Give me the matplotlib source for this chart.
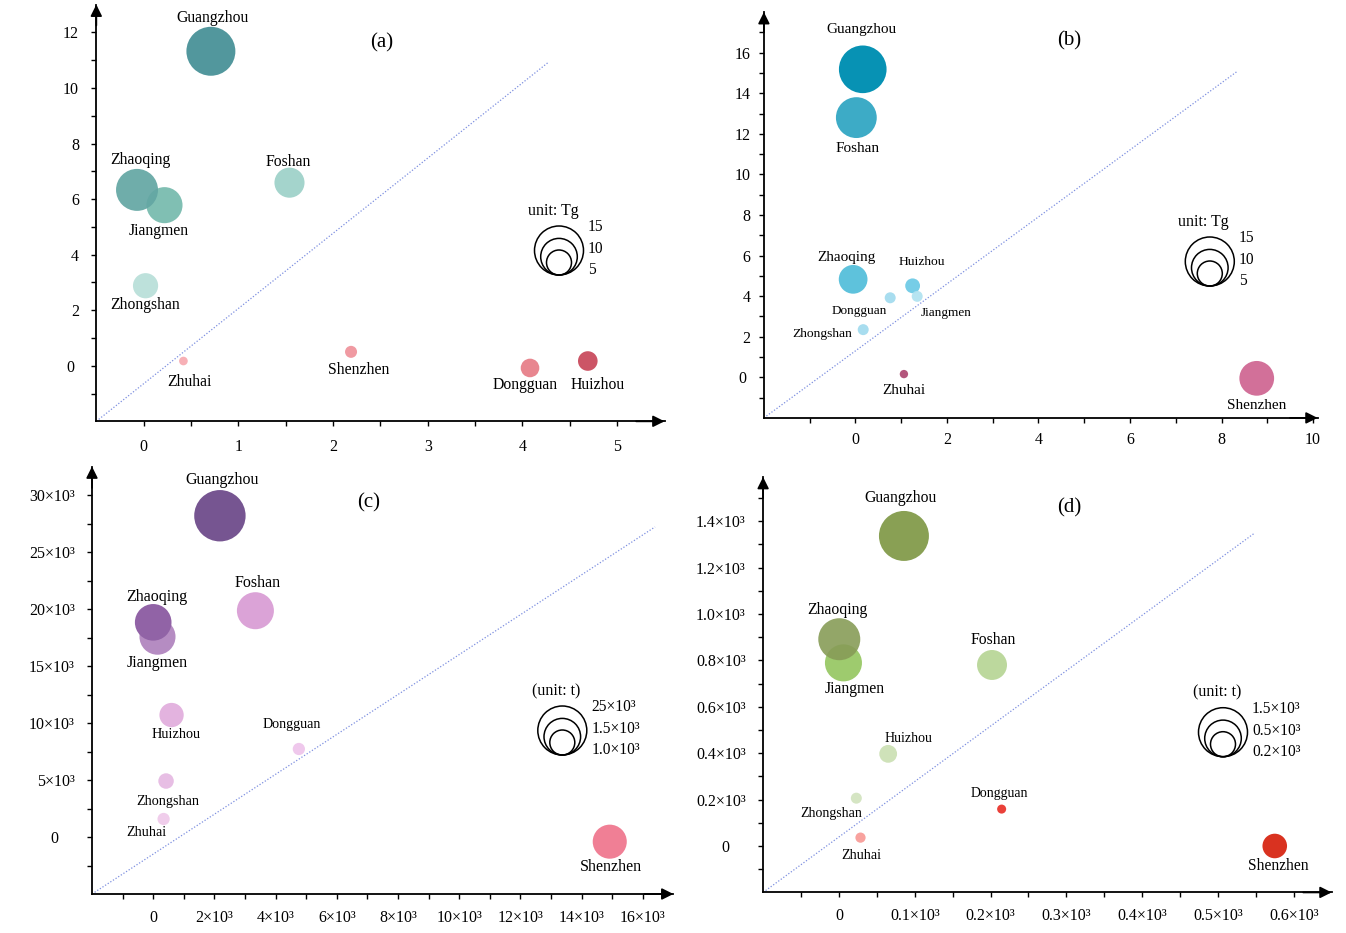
import numpy as np
import matplotlib
matplotlib.use("Agg")
import matplotlib.pyplot as plt
from matplotlib.ticker import FixedLocator, FuncFormatter
from matplotlib.patches import Circle

plt.rcParams['font.family'] = ['Liberation Serif', 'DejaVu Serif']

W, H, DPI = 1346, 933, 100

# ------------------------------------------------------------------ data
# (a)  unit: Tg
cities_a = ["Jiangmen", "Zhaoqing", "Guangzhou", "Foshan", "Zhongshan",
            "Zhuhai", "Shenzhen", "Dongguan", "Huizhou"]
x_a = [0.22, -0.07, 0.71, 1.54, 0.02, 0.42, 2.19, 4.08, 4.69]
y_a = [5.78, 6.33, 11.32, 6.59, 2.88, 0.17, 0.50, -0.08, 0.17]
v_a = [8.2, 11.1, 15.1, 5.7, 4.0, 0.47, 0.91, 2.18, 2.42]
diag_a = ([-0.5, 4.28], [-2.0, 10.94])
xticks_a = [0, 1, 2, 3, 4, 5]
yticks_a = [0, 2, 4, 6, 8, 10, 12]
legend_a = ["15", "10", "5"]

# (b)  unit: Tg
cities_b = ["Guangzhou", "Foshan", "Zhaoqing", "Huizhou", "Jiangmen",
            "Dongguan", "Zhongshan", "Zhuhai", "Shenzhen"]
x_b = [0.16, 0.02, -0.05, 1.25, 1.35, 0.76, 0.17, 1.06, 8.77]
y_b = [15.18, 12.8, 4.83, 4.51, 3.99, 3.92, 2.35, 0.16, -0.05]
v_b = [14.3, 10.5, 5.2, 1.38, 0.76, 0.76, 0.76, 0.44, 7.6]
diag_b = ([-2.0, 8.35], [-2.0, 15.09])
xticks_b = [0, 2, 4, 6, 8, 10]
yticks_b = [0, 2, 4, 6, 8, 10, 12, 14, 16]
legend_b = ["15", "10", "5"]

# (c)  unit: t (x10^3)
cities_c = ["Guangzhou", "Jiangmen", "Zhaoqing", "Foshan", "Huizhou",
            "Zhongshan", "Zhuhai", "Dongguan", "Shenzhen"]
x_c = [2.18, 0.14, 0.0, 3.34, 0.60, 0.42, 0.34, 4.76, 14.92]
y_c = [28.18, 17.57, 18.83, 19.85, 10.70, 4.91, 1.58, 7.72, -0.41]
v_c = [26.4, 13.0, 13.4, 13.7, 5.9, 2.4, 1.5, 1.5, 11.6]
diag_c = ([-2.0, 16.4], [-5.0, 27.2])
xticks_c = [0, 2, 4, 6, 8, 10, 12, 14, 16]
yticks_c = [0, 5, 10, 15, 20, 25, 30]
legend_c = ["25×10³", "1.5×10³", "1.0×10³"]

# (d)  unit: t (x10^3)
cities_d = ["Guangzhou", "Jiangmen", "Zhaoqing", "Foshan", "Huizhou",
            "Zhongshan", "Zhuhai", "Dongguan", "Shenzhen"]
x_d = [0.0858, 0.006, 0.0005, 0.202, 0.065, 0.023, 0.0285, 0.2147, 0.575]
y_d = [1.336, 0.789, 0.891, 0.780, 0.397, 0.206, 0.036, 0.159, 0.0]
v_d = [1.53, 0.84, 1.08, 0.55, 0.194, 0.074, 0.064, 0.05, 0.37]
diag_d = ([-0.1, 0.547], [-0.2, 1.345])
xticks_d = [0, 0.1, 0.2, 0.3, 0.4, 0.5, 0.6]
yticks_d = [0, 0.2, 0.4, 0.6, 0.8, 1.0, 1.2, 1.4]
legend_d = ["1.5×10³", "0.5×10³", "0.2×10³"]

# ------------------------------------------------------------------ styles
colors_a = {"Guangzhou": "#52979d", "Zhaoqing": (0.39, 0.65, 0.64, 0.92),
            "Jiangmen": "#80bfb3",
            "Foshan": "#a4d4cc", "Zhongshan": "#bde1db", "Zhuhai": "#f7b0b6",
            "Shenzhen": "#f09aa2", "Dongguan": "#e8868f", "Huizhou": "#cc5566"}
colors_b = {"Guangzhou": "#0792b4", "Foshan": "#3dabc6", "Zhaoqing": "#5ec2dc",
            "Huizhou": "#76cde7", "Jiangmen": (0.69, 0.886, 0.94, 0.92),
            "Dongguan": "#a8ddef",
            "Zhongshan": "#a8ddef", "Zhuhai": "#b3567c", "Shenzhen": "#d27099"}
colors_c = {"Guangzhou": "#765591", "Zhaoqing": "#9163a6", "Jiangmen": "#b58cc2",
            "Foshan": "#dba3d7", "Huizhou": "#e3b3df", "Zhongshan": "#e7bee4",
            "Zhuhai": "#f0cdeb", "Dongguan": "#efc8ec", "Shenzhen": "#f07f95"}
colors_d = {"Guangzhou": "#89a054", "Zhaoqing": (0.53, 0.61, 0.34, 0.9),
            "Jiangmen": "#9ecb6e", "Foshan": "#bcd89d", "Huizhou": "#cfe2b9",
            "Zhongshan": "#d5e5c3", "Zhuhai": "#f8a29e", "Dongguan": "#ea4039",
            "Shenzhen": "#d93220"}

# label offsets in pixels (dx right, dy down) and font sizes
lab_a = {"Guangzhou": (2, -33, 11.3), "Zhaoqing": (3, -30, 11.3), "Jiangmen": (-6, 26, 11.3),
         "Foshan": (-1, -21, 11.3), "Zhongshan": (0, 19, 11.3), "Zhuhai": (6, 21, 11.3),
         "Shenzhen": (8, 18, 11.3), "Dongguan": (-5, 17, 11.3), "Huizhou": (10, 24, 11.3)}
lab_b = {"Guangzhou": (-1, -40, 11), "Foshan": (1, 31, 11), "Zhaoqing": (-7, -22, 11),
         "Huizhou": (9, -24, 9.7), "Dongguan": (-31, 13, 9.5), "Jiangmen": (29, 17, 9.5),
         "Zhongshan": (-41, 4, 9.7), "Zhuhai": (0, 16, 11), "Shenzhen": (0, 27, 11)}
lab_c = {"Guangzhou": (2, -36, 11.5), "Foshan": (2, -28, 11.5), "Zhaoqing": (4, -25, 11.5),
         "Jiangmen": (0, 26, 11.5), "Huizhou": (5, 19, 10.3), "Dongguan": (-7, -24, 10.1),
         "Zhongshan": (2, 20, 10.2), "Zhuhai": (-17, 14, 10.2), "Shenzhen": (1, 25, 11.5)}
lab_d = {"Guangzhou": (-3, -38, 11.3), "Zhaoqing": (-2, -29, 11.3), "Jiangmen": (11, 26, 11.3),
         "Foshan": (1, -25, 11.3), "Huizhou": (20, -15, 10), "Dongguan": (-2, -16, 9.9),
         "Zhongshan": (-25, 15, 10), "Zhuhai": (1, 18, 10.1), "Shenzhen": (4, 20, 11.2)}

LEG_R = (24.5, 18.3, 12.5)          # legend key circle radii (px)
PX2PT = 72.0 / DPI

fig = plt.figure(figsize=(W / DPI, H / DPI), dpi=DPI)
fig.patch.set_facecolor("white")


def fmt_k(dec, zero_label="0"):
    def f(v, pos):
        if abs(v) < 1e-9:
            return zero_label
        return (f"{v:.{dec}f}" if dec else f"{v:g}") + "×10³"
    return FuncFormatter(f)


def fmt_plain(zero_label="0"):
    def f(v, pos):
        if abs(v) < 1e-9:
            return zero_label
        return f"{v:g}"
    return FuncFormatter(f)


def panel(box, xlim, ylim, cities, xs, ys, vs, k, colors, labs, diag,
          xt, xminor, yt, yminor, xfmt=None, yfmt=None, ypad=9, xpad=8,
          tag="", tag_xy=(0, 0), leg_anchor=(0, 0), leg_title="", leg_labels=()):
    l, r, t, b = box
    ax = fig.add_axes([l / W, 1 - b / H, (r - l) / W, (b - t) / H])
    ax.set_xlim(*xlim)
    ax.set_ylim(*ylim)
    ax.set_facecolor("none")
    for s in ("top", "right"):
        ax.spines[s].set_visible(False)
    for s in ("left", "bottom"):
        ax.spines[s].set_linewidth(1.3)
    ax.xaxis.set_major_locator(FixedLocator(xt))
    ax.xaxis.set_minor_locator(FixedLocator(xminor))
    ax.yaxis.set_major_locator(FixedLocator(yt))
    ax.yaxis.set_minor_locator(FixedLocator(yminor))
    if xfmt is not None:
        ax.xaxis.set_major_formatter(xfmt)
    if yfmt is not None:
        ax.yaxis.set_major_formatter(yfmt)
    ax.tick_params(which="both", direction="out", length=3.5, width=1.0)
    ax.tick_params(axis="x", which="major", labelsize=11.5, pad=xpad)
    ax.tick_params(axis="y", which="major", labelsize=11.5, pad=ypad)
    # arrows at axis ends
    ax.annotate("", xy=(1, 0), xytext=(0.95, 0), xycoords="axes fraction",
                arrowprops=dict(arrowstyle="-|>", color="k", lw=1.3,
                                mutation_scale=17, shrinkA=0, shrinkB=0))
    ax.annotate("", xy=(0, 1), xytext=(0, 0.95), xycoords="axes fraction",
                arrowprops=dict(arrowstyle="-|>", color="k", lw=1.3,
                                mutation_scale=17, shrinkA=0, shrinkB=0))
    # diagonal reference line
    ax.plot(diag[0], diag[1], ls=(0, (1, 1.5)), color="#7d8fe0", lw=0.9, zorder=1)
    # bubbles: radius (px) = k * sqrt(value)
    sizes = (2 * k * PX2PT) ** 2 * np.asarray(vs)
    cols = [colors[c] for c in cities]
    ax.scatter(xs, ys, s=sizes, c=cols, edgecolors="none", zorder=3, clip_on=False)
    for c, x, y in zip(cities, xs, ys):
        dx, dy, fs = labs[c]
        ax.annotate(c, (x, y), xytext=(dx * PX2PT, -dy * PX2PT),
                    textcoords="offset points", ha="center", va="center",
                    fontsize=fs, zorder=4)
    # panel tag
    fig.text(tag_xy[0] / W, 1 - tag_xy[1] / H, tag, fontsize=15,
             ha="center", va="center")
    # legend key
    cx, cb = leg_anchor
    for rr in LEG_R:
        fig.add_artist(Circle((cx / DPI, (H - cb + rr) / DPI), rr / DPI,
                              transform=fig.dpi_scale_trans, fill=False,
                              ec="k", lw=1.1))
    fig.text((cx - 6) / W, 1 - (cb - 64) / H, leg_title, fontsize=11.5,
             ha="center", va="center")
    for lab, dy in zip(leg_labels, (-48, -26, -5)):
        fig.text((cx + 29) / W, 1 - (cb + dy) / H, lab, fontsize=11.2,
                 ha="left", va="center")
    return ax


panel((96.3, 664.5, 4.6, 421.3), (-0.5, 5.5), (-2, 13),
      cities_a, x_a, y_a, v_a, 6.3, colors_a, lab_a, diag_a,
      xticks_a, [0.5, 1.5, 2.5, 3.5, 4.5], yticks_a, [-1, 1, 3, 5, 7, 9, 11],
      yfmt=fmt_plain("0 "), ypad=9, xpad=9, tag="(a)", tag_xy=(381.6, 43.3),
      leg_anchor=(559, 275), leg_title="unit: Tg", leg_labels=legend_a)

panel((763.9, 1317.6, 12.1, 417.9), (-2, 10.1), (-2, 18),
      cities_b, x_b, y_b, v_b, 6.3, colors_b, lab_b, diag_b,
      xticks_b, [-1, 1, 3, 5, 7, 9], yticks_b, [-1, 1, 3, 5, 7, 9, 11, 13, 15, 17],
      yfmt=fmt_plain("0 "), ypad=6, xpad=7, tag="(b)", tag_xy=(1068.7, 40.7),
      leg_anchor=(1209.8, 286), leg_title="unit: Tg", leg_labels=legend_b)

panel((92.0, 673.4, 466.5, 894.0), (-2, 17), (-5, 32.5),
      cities_c, x_c, y_c, v_c, 5.0, colors_c, lab_c, diag_c,
      xticks_c, [-1, 1, 3, 5, 7, 9, 11, 13, 15],
      yticks_c, [-2.5, 2.5, 7.5, 12.5, 17.5, 22.5, 27.5],
      xfmt=fmt_k(0), yfmt=fmt_k(0, "0    "), ypad=9, xpad=8, tag="(c)",
      tag_xy=(368.8, 503.3),
      leg_anchor=(562.3, 755), leg_title="(unit: t)", leg_labels=legend_c)

panel((763.1, 1331.6, 477.0, 892.4), (-0.1, 0.65), (-0.2, 1.59),
      cities_d, x_d, y_d, v_d, 20.2, colors_d, lab_d, diag_d,
      xticks_d, [-0.05, 0.05, 0.15, 0.25, 0.35, 0.45, 0.55],
      yticks_d, [-0.1, 0.1, 0.3, 0.5, 0.7, 0.9, 1.1, 1.3, 1.5],
      xfmt=fmt_k(1), yfmt=fmt_k(1, "0    "), ypad=9, xpad=8, tag="(d)",
      tag_xy=(1069.5, 508.3),
      leg_anchor=(1223, 756.7), leg_title="(unit: t)", leg_labels=legend_d)

fig.savefig("out.png", dpi=DPI, facecolor="white")
